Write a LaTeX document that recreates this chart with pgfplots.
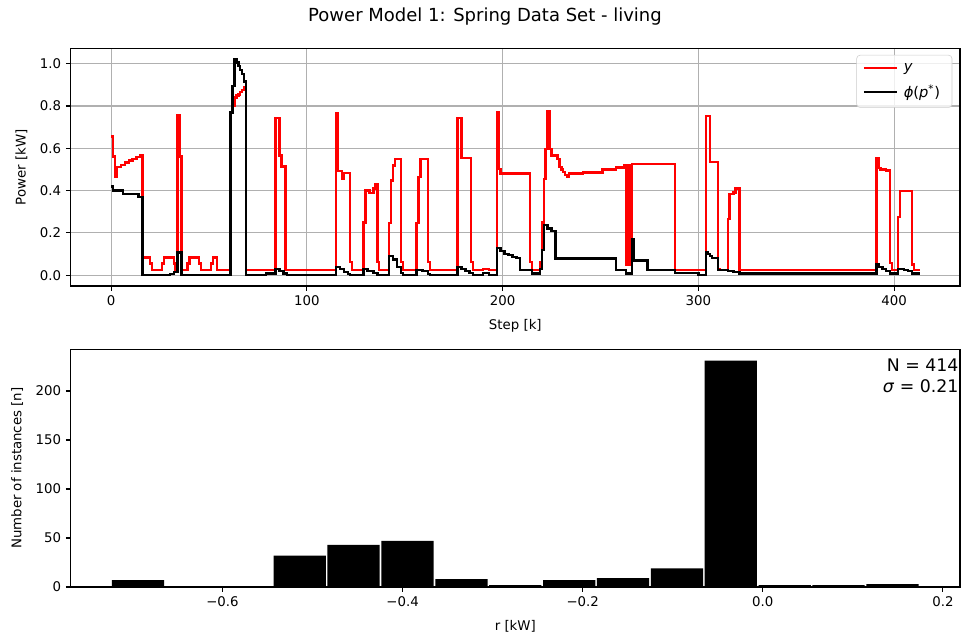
\documentclass[border=0pt]{standalone}
\usepackage{fontspec}
\setmainfont{DejaVu Sans}
\usepackage{pgfplots}
\pgfplotsset{compat=1.18}

\definecolor{gridgray}{HTML}{B0B0B0}
\definecolor{legendedge}{HTML}{CCCCCC}
\definecolor{mplred}{HTML}{FF0000}

\pgfplotsset{
  panel/.style={
    scale only axis, width=667pt, height=178.3pt, anchor=south west,
    axis line style={line width=0.8pt},
    tick align=outside, tick pos=left,
    major tick length=3.6pt,
    every tick/.style={black, line width=0.8pt},
    tick label style={font=\fontsize{10}{12}\selectfont},
    label style={font=\fontsize{10}{12}\selectfont},
    xlabel style={yshift=-3.5pt},
    ylabel style={yshift=2.5pt},
    /pgf/number format/assume math mode=true,
  }
}

\begin{document}
\begin{tikzpicture}
\useasboundingbox (0,0) rectangle (720.75pt,477.75pt);

\node[font=\fontsize{13.5}{16}\selectfont] at (363.75pt,465pt) {Power Model 1: Spring Data Set - living};

% --- time series panel ---
\begin{axis}[panel, at={(53pt,263.25pt)},
  xmin=-20.65, xmax=433.65, ymin=-0.051, ymax=1.073,
  xtick={0,100,200,300,400}, xticklabels={0,100,200,300,400},
  ytick={0,0.2,0.4,0.6,0.8,1.0}, yticklabels={0.0,0.2,0.4,0.6,0.8,1.0},
  grid=major, major grid style={gridgray, line width=0.8pt},
  xlabel={Step [k]}, ylabel={Power [kW]},
  legend cell align=left,
  legend style={at={(1,1)}, anchor=north east, xshift=-5.8pt, yshift=-5pt,
    draw=legendedge, rounded corners=2.5pt, fill=white, fill opacity=0.8, text opacity=1,
    font=\fontsize{11}{12}\selectfont, row sep=4.5pt, inner xsep=4.5pt, inner ysep=4pt,
    nodes={inner xsep=4.5pt}},
  legend image code/.code={\draw[#1] (0pt,0pt) -- (24.5pt,0pt);},
]
\addplot[const plot, mplred, line width=1.8pt] coordinates {
(0,0.656) (1,0.561) (2,0.464) (3,0.511) (5,0.522) (7,0.532) (9,0.542) (11,0.550) (13,0.558) (15,0.566)
(16,0.083) (20,0.055) (21,0.024) (26,0.055) (27,0.083) (32,0.055) (33,0.024) (34,0.758) (35,0.561) (36,0.024)
(39,0.055) (40,0.083) (45,0.055) (46,0.024) (51,0.055) (52,0.083) (54,0.024)
(61,0.770) (62,0.800) (63,0.840) (64,0.850) (65,0.855) (66,0.865) (67,0.875) (68,0.888) (69,0.024)
(84,0.744) (86,0.566) (87,0.514) (89,0.024)
(115,0.766) (116,0.492) (118,0.456) (119,0.483) (122,0.063) (123,0.024)
(129,0.250) (130,0.400) (132,0.390) (134,0.410) (135,0.430) (136,0.063) (137,0.024)
(142,0.247) (143,0.448) (144,0.519) (145,0.550) (148,0.063) (149,0.024)
(156,0.247) (157,0.464) (158,0.550) (162,0.063) (163,0.024)
(177,0.744) (179,0.555) (184,0.063) (185,0.024) (190,0.030) (193,0.024)
(197,0.770) (198,0.503) (199,0.480) (214,0.063) (215,0.024) (219,0.063)
(220,0.250) (221,0.456) (222,0.598) (223,0.774) (224,0.598) (225,0.566) (228,0.550) (229,0.511)
(230,0.500) (231,0.487) (232,0.475) (233,0.467) (234,0.480) (241,0.485) (251,0.500) (258,0.510)
(262,0.519) (263,0.050) (264,0.520) (265,0.050) (266,0.527) (288,0.024)
(304,0.752) (306,0.535) (310,0.030) (311,0.024) (315,0.267) (316,0.385) (318,0.392) (319,0.410) (321,0.024)
(391,0.555) (392,0.508) (393,0.500) (396,0.495) (398,0.057) (399,0.024)
(402,0.275) (403,0.398) (409,0.050) (410,0.024) (413,0.024)
};
\addlegendentry{\textit{y}}
\addplot[const plot, black, line width=1.8pt] coordinates {
(0,0.420) (1,0.400) (6,0.385) (14,0.370) (16,0.000) (30,0.005) (32,0.015) (34,0.107) (36,0.000)
(61,0.770) (62,0.896) (63,1.022) (64,1.006) (65,0.990) (66,0.970) (67,0.950) (68,0.915) (69,0.000)
(79,0.008) (84,0.030) (86,0.020) (88,0.008) (90,0.000)
(115,0.039) (117,0.030) (119,0.015) (121,0.005) (122,0.000)
(129,0.030) (131,0.020) (134,0.010) (136,0.000)
(142,0.090) (144,0.075) (146,0.040) (148,0.010) (149,0.000)
(156,0.025) (159,0.020) (162,0.005) (163,0.000)
(177,0.039) (179,0.030) (181,0.020) (183,0.010) (185,0.000) (190,0.010) (193,0.000)
(197,0.130) (199,0.115) (201,0.100) (203,0.095) (205,0.085) (207,0.080) (209,0.024) (215,0.008)
(219,0.030) (220,0.118) (221,0.236) (223,0.220) (225,0.210) (227,0.079)
(258,0.024) (263,0.008) (266,0.168) (267,0.070) (274,0.024) (288,0.010) (300,0.000)
(304,0.110) (305,0.100) (306,0.090) (307,0.080) (310,0.024) (315,0.020) (318,0.015) (321,0.008)
(390,0.008) (391,0.050) (392,0.040) (394,0.030) (396,0.020) (398,0.008)
(402,0.030) (405,0.025) (407,0.020) (409,0.008) (413,0.008)
};
\addlegendentry{\textit{ϕ}(\textit{p}\textsuperscript{*})}
\end{axis}

% --- residual histogram panel (bars centred in 15 bins of width 0.05985 kW) ---
\begin{axis}[panel, at={(53pt,37.5pt)}, axis on top,
  xmin=-0.7686, xmax=0.2190, ymin=0, ymax=242.55,
  xtick={-0.6,-0.4,-0.2,0,0.2}, xticklabels={−0.6,−0.4,−0.2,0.0,0.2},
  ytick={0,50,100,150,200}, yticklabels={0,50,100,150,200},
  xlabel={r [kW]}, ylabel={Number of instances [n]},
]
\addplot[ybar, bar width=0.0580, bar shift=0pt, fill=black, draw=none] coordinates {
(-0.6938,7) (-0.6340,0) (-0.5741,1) (-0.5143,32) (-0.4544,43) (-0.3946,47) (-0.3347,8)
(-0.2749,2) (-0.2150,7) (-0.1552,9) (-0.0953,19) (-0.0355,231) (0.0244,2) (0.0842,2)
(0.1441,3)
};
\node[anchor=north east, align=right, font=\fontsize{13}{15.5}\selectfont, inner sep=0pt]
  at (rel axis cs:1,1) [yshift=-7pt, xshift=-1pt] {N = 414\\\textit{σ} = 0.21};
\end{axis}
\end{tikzpicture}
\end{document}
